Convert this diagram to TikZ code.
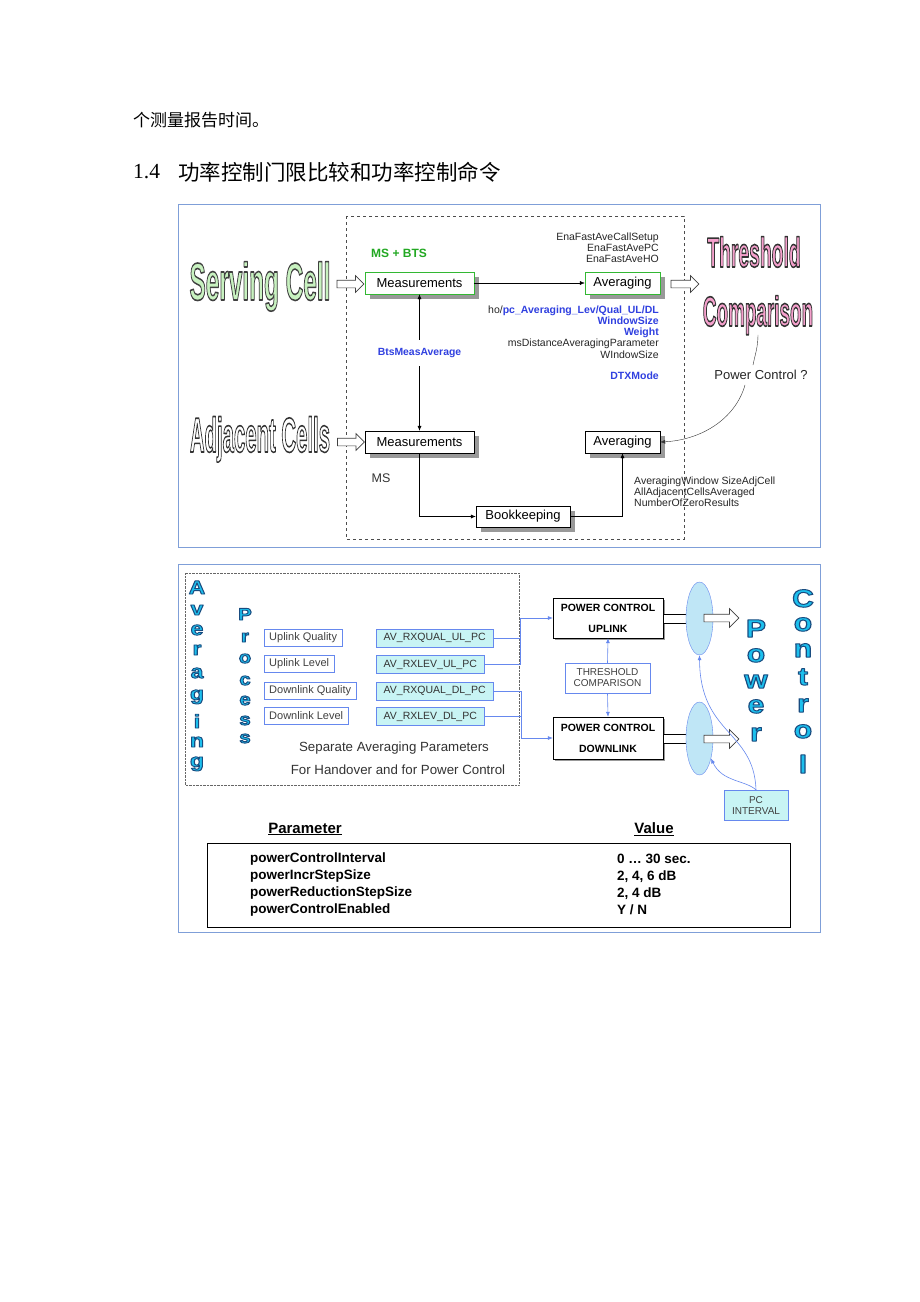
\documentclass[tikz,border=0pt]{standalone}
\usepackage{fontspec}
\setmainfont{Liberation Sans}
\newfontfamily\cjkfont{Noto Sans CJK SC}
\newfontfamily\numfont{Liberation Serif}
\usetikzlibrary{shapes.geometric,shapes.arrows,shadows,arrows.meta}

\definecolor{panelblue}{HTML}{7F9FD8}
\definecolor{boxgreen}{HTML}{33B833}
\definecolor{msgreen}{HTML}{22A822}
\definecolor{txtblue}{HTML}{3040E0}
\definecolor{lgreen}{HTML}{C8F2C0}
\definecolor{pinkfill}{HTML}{F5A0CC}
\definecolor{cyanletter}{HTML}{1CC0EE}
\definecolor{cyanbox}{HTML}{C8F4F4}
\definecolor{ellfill}{HTML}{BFE6F6}
\definecolor{lineblue}{HTML}{6688EE}

\newcommand{\pxfont}[2]{\fontsize{#1}{#2}\selectfont}
% stroke rgb, stroke width, text: glyphs filled and outlined
\newcommand{\edgetext}[3]{%
  \special{pdf:literal direct #1 RG #2 w 1 j 2 Tr}#3\special{pdf:literal direct 0 Tr}}

\begin{document}
\begin{tikzpicture}[x=1pt, y=-1pt,
  panel/.style={draw=panelblue, line width=0.8pt},
  procbox/.style={draw=black, fill=white, font=\pxfont{13}{15}, minimum height=22pt, inner sep=0pt,
    drop shadow={shadow xshift=5pt, shadow yshift=-5pt, fill=black!40, opacity=1}},
  small/.style={font=\pxfont{10.5}{11.2}, text=black!85, inner sep=0pt},
  bigword/.style={font=\bfseries\pxfont{#1}{#1}, anchor=base, inner sep=0pt},
  bigletter/.style={font=\bfseries\pxfont{#1}{#1}, anchor=base, inner sep=0pt, xscale=1.2, text=cyanletter},
  hollowarr/.style={single arrow, draw=black!75, fill=white, line width=0.7pt, inner sep=3.5pt,
    minimum height=#1, single arrow head extend=4.5pt},
  qbox/.style={draw=lineblue, fill=white, font=\pxfont{11}{12}, text=black!75, anchor=west,
    minimum height=17pt, inner xsep=5pt, inner ysep=0pt},
  avbox/.style={draw=lineblue, fill=cyanbox, font=\pxfont{10.5}{12}, text=black!80, anchor=west,
    minimum height=18pt, inner xsep=7.5pt, inner ysep=0pt},
  pcbox/.style={draw=black, fill=white, font=\bfseries\pxfont{10.5}{12}, align=center,
    minimum width=110pt, inner sep=0pt,
    drop shadow={shadow xshift=2pt, shadow yshift=-2pt, fill=black!40, opacity=1}},
  bline/.style={draw=lineblue, line width=0.6pt},
  tip/.style={-{Latex[length=5pt,width=4pt]}},
  btip/.style={-{Latex[length=5pt,width=4pt]}, bline}
]
\useasboundingbox[fill=white] (0,0) rectangle (920,1302);

% page text
\node[anchor=west, inner sep=0pt, font=\cjkfont\pxfont{17}{17}] (line1) at (133,120) {个测量报告时间。};
\node[anchor=west, inner sep=0pt, font=\numfont\pxfont{21.5}{22}] (secno) at (133,172) {1.4};
\node[anchor=west, inner sep=0pt, font=\cjkfont\pxfont{21.5}{22}] (sectitle) at (178,172) {功率控制门限比较和功率控制命令};

% upper figure
\draw[panel] (178,204) rectangle (820,547);
\draw[dashed, black!70] (346,216) rectangle (684,539);

\node[bigword=53, xscale=0.46, text=lgreen] (serving) at (260,300) {\edgetext{0.25 0.25 0.25}{1.6}{Serving Cell}};
\node[bigword=49, xscale=0.415, text=white] (adjacent) at (260,452) {\edgetext{0.2 0.2 0.2}{1.6}{Adjacent Cells}};
\node[bigword=42, xscale=0.46, text=pinkfill] (thresh) at (754,267) {\edgetext{0.2 0.2 0.2}{1.6}{Threshold}};
\node[bigword=42, xscale=0.45, text=pinkfill] (comp) at (758,326) {\edgetext{0.2 0.2 0.2}{1.6}{Comparison}};

\node[font=\bfseries\pxfont{12}{14}, text=msgreen, anchor=west, inner sep=0pt] (msbts) at (371,253) {MS + BTS};
\node[procbox, draw=boxgreen, minimum width=109pt] (meas1) at (419.5,283) {Measurements};
\node[procbox, draw=boxgreen, minimum width=75pt] (avg1) at (622.5,283) {Averaging};
\node[procbox, minimum width=109pt] (meas2) at (419.5,442) {Measurements};
\node[procbox, minimum width=75pt] (avg2) at (622.5,442) {Averaging};
\node[procbox, minimum width=94pt, minimum height=21pt] (book) at (523,516.5) {Bookkeeping};

\node[hollowarr=27pt] (sarr) at (348.5,284) {};
\node[hollowarr=27pt] (aarr) at (349,442) {};
\node[hollowarr=28pt] (tarr) at (683,284) {};

\node[small, anchor=east, align=right] (ena) at (659,248) {EnaFastAveCallSetup\\EnaFastAvePC\\EnaFastAveHO};
\node[small, anchor=east, align=right] (avpar) at (659,332)
  {ho/\textcolor{txtblue}{\bfseries pc\_Averaging\_Lev/Qual\_UL/DL}\\
   \textcolor{txtblue}{\bfseries WindowSize}\\
   \textcolor{txtblue}{\bfseries Weight}\\
   msDistanceAveragingParameter\\
   WIndowSize};
\node[small, anchor=east, font=\bfseries\pxfont{10.5}{11.2}, text=txtblue] (dtx) at (659,376) {DTXMode};
\node[small, anchor=west, align=left] (adjpar) at (634,492) {AveragingWindow SizeAdjCell\\AllAdjacentCellsAveraged\\NumberOfZeroResults};
\node[font=\pxfont{12.5}{14}, text=black!80, inner sep=0pt] (ms) at (381,478) {MS};
\node[font=\pxfont{13}{15}, text=black!85, inner sep=5pt] (pcq) at (761,375) {Power Control ?};

\draw[tip] (meas1) -- (avg1);
\draw[{Latex[length=5pt,width=4pt]}-{Latex[length=5pt,width=4pt]}] (meas1.south) -- (meas2.north)
  node[pos=0.43, fill=white, inner xsep=1pt, inner ysep=8pt, font=\bfseries\pxfont{10.4}{12}, text=txtblue] (btsavg) {BtsMeasAverage};
\draw[tip] (meas2.south) |- (book.west);
\draw[tip] (book.east) -| (avg2.south);
\draw[black!80] (comp.south) .. controls +(0,12) and +(2,-10) .. ([xshift=-8pt]pcq.north);
\draw[tip, black!80] ([xshift=-16pt]pcq.south) .. controls (735,420) and (700,440) .. (avg2.east);

% lower figure
\draw[panel] (178,564) rectangle (820,932);
\draw[densely dotted, black!60] (185,573) rectangle (519,785);

\foreach \ch/\yy [count=\i] in {A/594,v/615,e/635,r/655,a/678,g/700,i/728,n/747,g/767}
  \node[bigletter=19] (avl\i) at (197,\yy) {\edgetext{0.1 0.3 0.5}{0.9}{\ch}};
\foreach \ch/\yy [count=\i] in {P/620,r/642,o/663,c/685,e/705,s/725,s/743}
  \node[bigletter=17] (prl\i) at (245,\yy) {\edgetext{0.1 0.3 0.5}{0.9}{\ch}};
\foreach \ch/\yy [count=\i] in {P/637,o/662,w/688,e/713,r/741}
  \node[bigletter=25] (pwl\i) at (756,\yy) {\edgetext{0.1 0.3 0.5}{1}{\ch}};
\foreach \ch/\yy [count=\i] in {C/607,o/631,n/657,t/685,r/712,o/738,l/773}
  \node[bigletter=25] (ctl\i) at (803,\yy) {\edgetext{0.1 0.3 0.5}{1}{\ch}};

\node[qbox] (ulq) at (264,637.5) {Uplink Quality};
\node[qbox] (ull) at (264,664) {Uplink Level};
\node[qbox] (dlq) at (264,690.5) {Downlink Quality};
\node[qbox] (dll) at (264,716) {Downlink Level};
\node[avbox] (avqul) at (376,638) {AV\_RXQUAL\_UL\_PC};
\node[avbox] (avlul) at (376,664.5) {AV\_RXLEV\_UL\_PC};
\node[avbox] (avqdl) at (376,691) {AV\_RXQUAL\_DL\_PC};
\node[avbox] (avldl) at (376,716.5) {AV\_RXLEV\_DL\_PC};

\node[font=\pxfont{13.3}{15}, text=black!80, inner sep=0pt] (sep1) at (394,748) {Separate Averaging Parameters};
\node[font=\pxfont{13.3}{15}, text=black!80, inner sep=0pt] (sep2) at (398,770) {For Handover and for Power Control};

\node[pcbox, minimum height=40pt] (pcul) at (608,618) {POWER CONTROL\\[9pt]UPLINK};
\node[pcbox, minimum height=42pt] (pcdl) at (608,738) {POWER CONTROL\\[9pt]DOWNLINK};
\node[draw=lineblue, fill=white, font=\pxfont{10}{11}, text=black!75, align=center,
  minimum width=85pt, minimum height=30pt, inner sep=0pt] (thr) at (607.5,678) {THRESHOLD\\COMPARISON};

\coordinate (ulj) at (520,618);
\coordinate (dlj) at (521,738);
\draw[bline] (avqul.east) -| (ulj);
\draw[bline] (avlul.east) -| (ulj);
\draw[btip] (ulj) -- (ulj -| pcul.west);
\draw[bline] (avqdl.east) -| (dlj);
\draw[bline] (avldl.east) -| (dlj);
\draw[btip] (dlj) -- (dlj -| pcdl.west);
\draw[btip] (thr.north) -- (pcul.south);
\draw[btip] (thr.south) -- (pcdl.north);

\node[draw=black, fill=white, minimum width=24pt, minimum height=9pt, inner sep=0pt] (ulbar) at (675,618.5) {};
\node[draw=black, fill=white, minimum width=24pt, minimum height=9pt, inner sep=0pt] (dlbar) at (675,738.5) {};
\node[ellipse, draw=lineblue, fill=ellfill, minimum width=27pt, minimum height=73pt, inner sep=0pt] (ulell) at (699.5,618.5) {};
\node[ellipse, draw=lineblue, fill=ellfill, minimum width=27pt, minimum height=73pt, inner sep=0pt] (dlell) at (699.5,738.5) {};
\node[hollowarr=35pt, single arrow head extend=5.5pt] (ularr) at (719.5,618) {};
\node[hollowarr=35pt, single arrow head extend=5.5pt] (dlarr) at (719.5,739) {};

\node[draw=lineblue, fill=cyanbox, font=\pxfont{10}{11}, text=black!75, align=center,
  minimum width=64pt, minimum height=30pt, inner sep=0pt] (pcint) at (756,805) {PC\\INTERVAL};
\draw[btip] (pcint.north) .. controls (754,730) and (700,735) .. (ulell.south);
\draw[btip] (pcint.north) .. controls (745,780) and (722,782) .. (dlell.300);

% parameter table
\node[font=\bfseries\pxfont{15}{17}, inner sep=0pt] (parhead) at (305,829) {\underline{Parameter}};
\node[font=\bfseries\pxfont{15}{17}, inner sep=0pt] (valhead) at (654,829) {\underline{Value}};
\node[draw=black, minimum width=583pt, minimum height=84pt, inner sep=0pt] (partab) at (498.5,885) {};
\node[font=\bfseries\pxfont{13.5}{17}, anchor=west, align=left, inner sep=0pt] (parnames) at (250,884.5)
  {powerControlInterval\\powerIncrStepSize\\powerReductionStepSize\\powerControlEnabled};
\node[font=\bfseries\pxfont{13.5}{17}, anchor=west, align=left, inner sep=0pt] (parvals) at (617,884.5)
  {0 … 30 sec.\\2, 4, 6 dB\\2, 4 dB\\Y / N};
\end{tikzpicture}
\end{document}
